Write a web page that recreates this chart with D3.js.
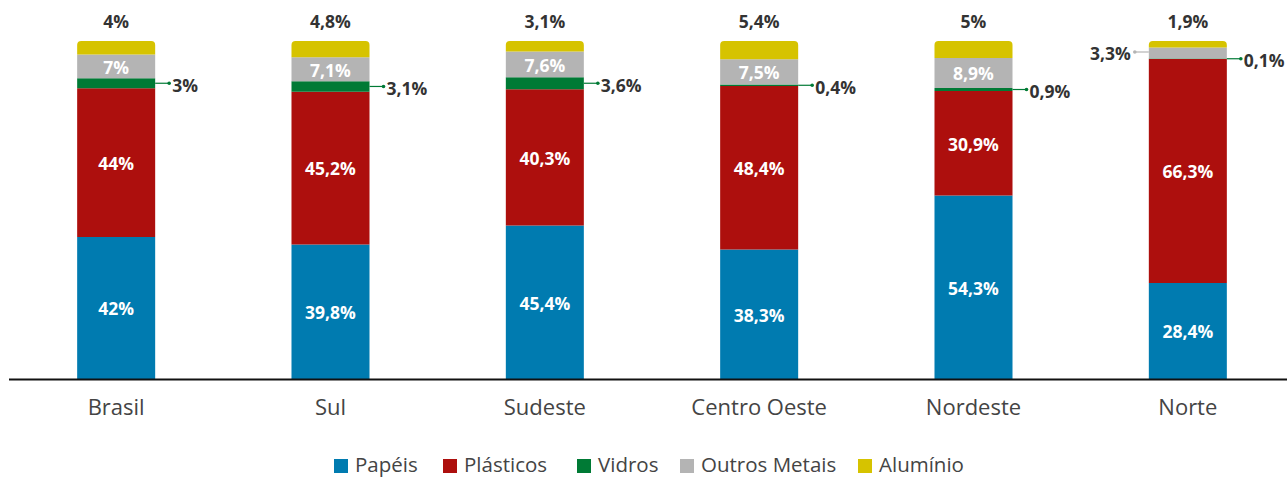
<!DOCTYPE html>
<html>
<meta charset="utf-8">
<head>
<style>
    body { margin: 0; background: white; }
    text { font-family: "Open Sans", sans-serif; }
    .inside { fill: white; font-weight: 700; font-size: 17.5px; text-anchor: middle; }
    .outside { fill: #333; font-weight: 700; font-size: 17.5px; }
    .cat { fill: #444; font-size: 22px; text-anchor: middle; }
    .legend text { fill: #444; font-size: 20.5px; }
</style>
</head>
<body>
<div id="viz"></div>
<script src="https://cdn.jsdelivr.net/npm/d3@7"></script>
<script>
const width = 1287;
const height = 478;

const regions = ['Brasil', 'Sul', 'Sudeste', 'Centro Oeste', 'Nordeste', 'Norte'];
const series = ['Papéis', 'Plásticos', 'Vidros', 'Outros Metais', 'Alumínio'];
const colours = ['#007bb0', '#ad0f0d', '#007a35', '#b4b4b4', '#d6c300'];

const papeis = [42, 39.8, 45.4, 38.3, 54.3, 28.4];
const plasticos = [44, 45.2, 40.3, 48.4, 30.9, 66.3];
const vidros = [3, 3.1, 3.6, 0.4, 0.9, 0.1];
const outros = [7, 7.1, 7.6, 7.5, 8.9, 3.3];
const aluminio = [4, 4.8, 3.1, 5.4, 5, 1.9];

const values = [papeis, plasticos, vidros, outros, aluminio];

const rows = regions.map((r, i) => {
    let row = { region: r };
    series.forEach((s, j) => row[s] = values[j][i]);
    return row;
});

const stacked = d3.stack().keys(series)(rows);

const x = d3.scaleBand()
    .domain(regions)
    .range([9, 1295])
    .paddingInner(0.636)
    .paddingOuter(0.318);

const y = d3.scaleLinear()
    .domain([0, 100])
    .range([379, 41]);

const fmt = v => String(v).replace('.', ',') + '%';

const svg = d3.select("#viz")
    .append("svg")
    .attr("width", width)
    .attr("height", height);

const layers = svg.selectAll(".layer")
    .data(stacked)
    .enter()
    .append("g")
    .attr("class", "layer")
    .attr("fill", (d, i) => colours[i]);

// segments; the top one (aluminio) gets rounded top corners
layers.each(function(layer, li) {
    const g = d3.select(this);
    g.selectAll("path")
        .data(layer)
        .enter()
        .append("path")
        .attr("d", d => {
            const x0 = x(d.data.region), w = x.bandwidth();
            const yTop = y(d[1]), yBot = y(d[0]);
            if (li === series.length - 1) {
                const r = 4;
                return `M${x0},${yBot}V${yTop + r}Q${x0},${yTop} ${x0 + r},${yTop}H${x0 + w - r}Q${x0 + w},${yTop} ${x0 + w},${yTop + r}V${yBot}Z`;
            }
            return `M${x0},${yBot}V${yTop}H${x0 + w}V${yBot}Z`;
        });
});

// labels
const insideSeries = ['Papéis', 'Plásticos', 'Outros Metais'];
stacked.forEach((layer, li) => {
    const key = series[li];
    layer.forEach((d, i) => {
        const cx = x(d.data.region) + x.bandwidth() / 2;
        const cy = (y(d[0]) + y(d[1])) / 2;
        const v = d.data[key];
        if (insideSeries.includes(key) && !(key === 'Outros Metais' && d.data.region === 'Norte')) {
            svg.append("text").attr("class", "inside")
                .attr("x", cx).attr("y", cy + 1).attr("dy", "0.36em")
                .text(fmt(v));
        } else if (key === 'Alumínio') {
            svg.append("text").attr("class", "outside")
                .attr("x", cx).attr("y", 22).attr("dy", "0.36em")
                .attr("text-anchor", "middle")
                .text(fmt(v));
        } else if (key === 'Vidros') {
            const xr = x(d.data.region) + x.bandwidth();
            svg.append("line")
                .attr("x1", xr).attr("x2", xr + 14)
                .attr("y1", cy).attr("y2", cy)
                .attr("stroke", colours[li]).attr("stroke-width", 1.2);
            svg.append("circle")
                .attr("cx", xr + 14).attr("cy", cy).attr("r", 1.8)
                .attr("fill", colours[li]);
            svg.append("text").attr("class", "outside")
                .attr("x", xr + 17).attr("y", cy + 2).attr("dy", "0.36em")
                .text(fmt(v));
        } else {
            // Norte outros metais label on the left
            const xl = x(d.data.region);
            svg.append("line")
                .attr("x1", xl).attr("x2", xl - 14)
                .attr("y1", cy - 1).attr("y2", cy - 1)
                .attr("stroke", colours[li]).attr("stroke-width", 1.2);
            svg.append("circle")
                .attr("cx", xl - 14).attr("cy", cy - 1).attr("r", 1.8)
                .attr("fill", colours[li]);
            svg.append("text").attr("class", "outside")
                .attr("x", xl - 18).attr("y", cy + 1).attr("dy", "0.36em")
                .attr("text-anchor", "end")
                .text(fmt(v));
        }
    });
});

// axis
svg.append("line")
    .attr("x1", 9).attr("x2", width)
    .attr("y1", 379.5).attr("y2", 379.5)
    .attr("stroke", "#111").attr("stroke-width", 2);

svg.selectAll(".cat")
    .data(regions)
    .enter()
    .append("text")
    .attr("class", "cat")
    .attr("x", d => x(d) + x.bandwidth() / 2)
    .attr("y", 407)
    .attr("dy", "0.36em")
    .text(d => d);

// legend
const legendX = [334, 443, 577, 680, 858];
const legend = svg.append("g").attr("class", "legend");
series.forEach((s, i) => {
    legend.append("rect")
        .attr("x", legendX[i]).attr("y", 459)
        .attr("width", 14).attr("height", 14)
        .attr("fill", colours[i]);
    legend.append("text")
        .attr("x", legendX[i] + 21).attr("y", 465).attr("dy", "0.36em")
        .text(s);
});
</script>
</body>
</html>
